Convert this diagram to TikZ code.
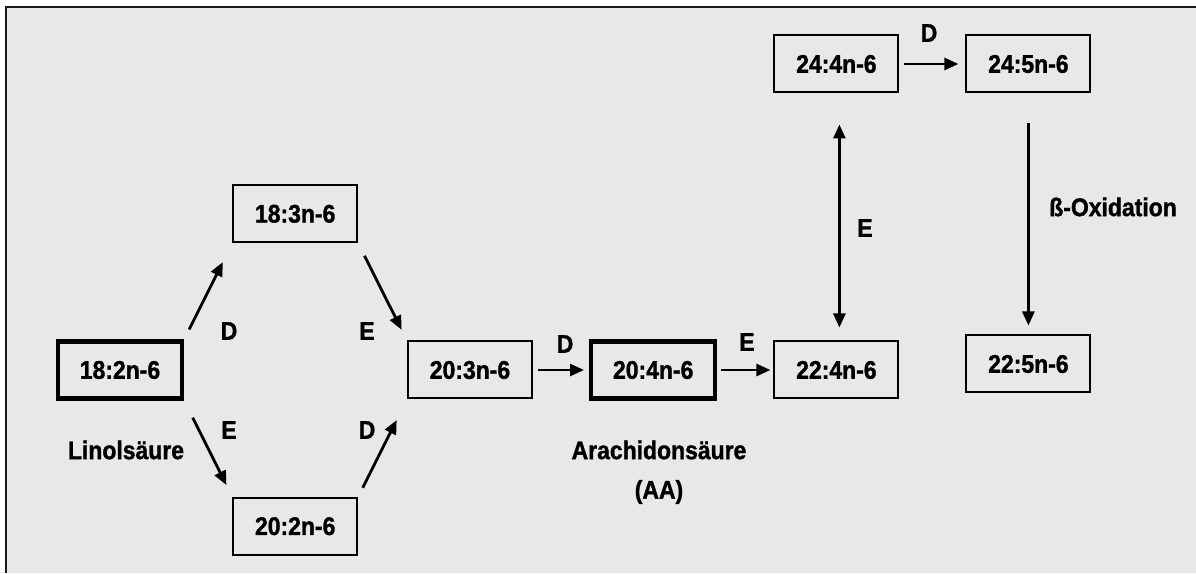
\documentclass[tikz,border=0pt]{standalone}
\usepackage{fontspec}
\setmainfont{Liberation Sans}[FakeStretch=0.9, BoldFeatures={FakeBold=1.3}]
\usetikzlibrary{arrows.meta,positioning}
\definecolor{panel}{RGB}{232,232,232}
\definecolor{frame}{RGB}{25,25,25}
\tikzset{
  fa/.style={
    rectangle, draw, line width=2pt, align=center, inner sep=0pt,
    minimum width=124pt, minimum height=57pt,
    font=\fontsize{25.5}{29}\selectfont\bfseries
  },
  key/.style={fa, line width=4.4pt},
  lbl/.style={font=\fontsize{25.5}{29}\selectfont\bfseries, inner sep=0pt},
  edge/.style={-{Triangle[length=14pt,width=12pt]}, line width=2.8pt}
}
\begin{document}
\begin{tikzpicture}[x=1pt, y=1pt, node distance=48pt]
\useasboundingbox (0,0) rectangle (1196,573);
\fill[panel] (6,0) rectangle (1196,566);
\draw[frame, line width=2.5pt] (6,0) -- (6,566) -- (1196,566);

\node[key] (la) at (120,203) {18:2n-6};
\node[fa, above right=96pt and 48pt of la] (gla) {18:3n-6};
\node[fa, below right=96pt and 48pt of la] (eda) {20:2n-6};
\node[fa] (dgla) at (470,203) {20:3n-6};
\node[key, right=56pt of dgla] (aa) {20:4n-6};
\node[fa, right=56pt of aa] (ada) {22:4n-6};
\node[fa, above=247pt of ada] (tta) {24:4n-6};
\node[fa, right=66pt of tta] (tpa) {24:5n-6};
\node[fa, below=241pt of tpa] (dpa) {22:5n-6};

% Desaturase / Elongase
\node[lbl] (d1) at (229,242) {D};
\node[lbl] (e1) at (367,242) {E};
\node[lbl] (e2) at (229,143) {E};
\node[lbl] (d2) at (367,143) {D};
\node[lbl] (d3) at (565,229) {D};
\node[lbl] (e3) at (747,231) {E};
\node[lbl] (e4) at (865,345) {E};
\node[lbl] (d4) at (929,540) {D};
\node[lbl] (box) at (1113,366) {ß-Oxidation};
\node[lbl] (lin) at (126,123) {Linolsäure};
\node[lbl] (arach) at (659,123) {Arachidonsäure};
\node[lbl] (aashort) at (659,81) {(AA)};

\draw[edge, shorten <=11pt, shorten >=21pt] (la.north east) -- (gla.south west);
\draw[edge, shorten <=14pt, shorten >=12pt] (gla.south east) -- (dgla.north west);
\draw[edge, shorten <=19pt, shorten >=13pt] (la.south east) -- (eda.north west);
\draw[edge, shorten <=10pt, shorten >=23pt] (eda.north east) -- (dgla.south west);
\draw[edge, shorten <=5pt, shorten >=5pt] (dgla) -- (aa);
\draw[edge, shorten <=4pt, shorten >=3pt] (aa) -- (ada);
\draw[edge, shorten <=5pt, shorten >=7pt] (tta) -- (tpa);
\draw[edge, {Triangle[length=14pt,width=12pt]}-{Triangle[length=14pt,width=12pt]}, shorten <=13pt, shorten >=31pt]
  ([xshift=3pt]ada.north) -- ([xshift=3pt]tta.south);
\draw[edge, shorten <=30pt, shorten >=9pt] (tpa.south) -- (dpa.north);
\end{tikzpicture}
\end{document}
